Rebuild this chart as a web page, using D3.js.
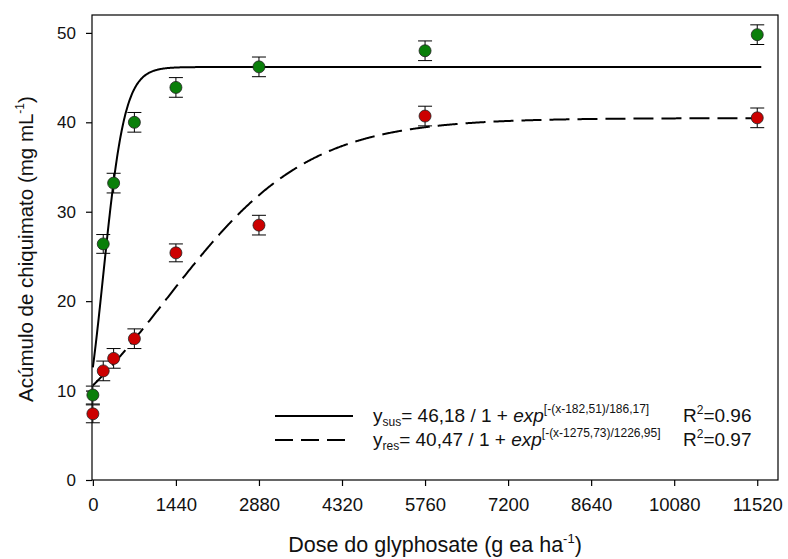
<!DOCTYPE html>
<meta charset="utf-8">
<html lang="pt">
  <head>
    <style>
      body { margin: 0; background-color: #fff; }
      svg { font-family: "Liberation Sans", Arial, sans-serif; }
      .frame { fill: none; stroke: #000; stroke-width: 1.2px; }
      .curve { fill: none; stroke: #000; stroke-width: 2px; }
      .err { stroke: #000; stroke-width: 1px; }
    </style>
  </head>
  <body>
    <script src="https://d3js.org/d3.v7.min.js"></script>
    <svg></svg>
    <script>

      // doses (g ea ha-1)
      var doses = [0, 180, 360, 720, 1440, 2880, 5760, 11520];

      // susceptible (green) and resistant (red) means and errors
      var susValues = [9.5, 26.4, 33.2, 40.0, 43.9, 46.2, 48.0, 49.8];
      var susErrors = [1.0, 1.05, 1.1, 1.1, 1.1, 1.1, 1.1, 1.1];
      var resValues = [7.4, 12.2, 13.6, 15.8, 25.4, 28.5, 40.7, 40.5];
      var resErrors = [1.0, 1.1, 1.1, 1.1, 1.0, 1.1, 1.1, 1.1];

      // fitted parameters: a, x0, b
      var susFit = [46.18, 182.51, 186.17];
      var resFit = [40.47, 1275.73, 1226.95];

      var xTicks = [0, 1440, 2880, 4320, 5760, 7200, 8640, 10080, 11520];
      var yTicks = [0, 10, 20, 30, 40, 50];

      var width = 788, height = 559;

      var svg = d3.select("svg")
        .attr("width", width)
        .attr("height", height);

      var x = d3.scaleLinear().domain([-15, 11880]).range([92, 778]);
      var y = d3.scaleLinear().domain([0, 52]).range([480, 15]);

      // axes
      svg.append("g")
        .attr("transform", "translate(0,480)")
        .call(d3.axisBottom(x).tickValues(xTicks).tickFormat(d3.format("d"))
          .tickSize(6).tickPadding(12).tickSizeOuter(0))
        .call(function(g) {
          g.select(".domain").remove();
          g.selectAll("line").attr("stroke", "#000").attr("stroke-width", 1.2);
          g.selectAll("text").attr("fill", "#111").style("font-size", "18.5px");
        });

      svg.append("g")
        .attr("transform", "translate(92,0)")
        .call(d3.axisLeft(y).tickValues(yTicks).tickSize(6).tickPadding(10).tickSizeOuter(0))
        .call(function(g) {
          g.select(".domain").remove();
          g.selectAll("line").attr("stroke", "#000").attr("stroke-width", 1.2);
          g.selectAll("text").attr("fill", "#111").style("font-size", "17px");
        });

      svg.append("rect")
        .attr("class", "frame")
        .attr("x", 92).attr("y", 15)
        .attr("width", 778 - 92).attr("height", 480 - 15);

      // fitted curves
      function logistic(p) {
        return function(d) { return p[0] / (1 + Math.exp(-(d - p[1]) / p[2])); };
      }
      var grid = d3.range(0, 11600, 10);
      var line = function(f) {
        return d3.line().x(function(d) { return x(d); }).y(function(d) { return y(f(d)); });
      };

      svg.append("path")
        .attr("class", "curve")
        .attr("d", line(logistic(susFit))(grid));

      svg.append("path")
        .attr("class", "curve")
        .attr("stroke-dasharray", "20,8")
        .attr("d", line(logistic(resFit))(grid.filter(function(d) { return d <= 11480; })));

      // points with error bars
      function drawSeries(values, errors, color) {
        var g = svg.append("g");
        var pts = doses.map(function(d, i) { return { d: d, v: values[i], e: errors[i] }; });
        var eb = g.selectAll(".eb").data(pts).enter().append("g");
        eb.append("line").attr("class", "err")
          .attr("x1", function(p) { return x(p.d); }).attr("x2", function(p) { return x(p.d); })
          .attr("y1", function(p) { return y(p.v + p.e); }).attr("y2", function(p) { return y(p.v - p.e); });
        [1, -1].forEach(function(s) {
          eb.append("line").attr("class", "err")
            .attr("x1", function(p) { return x(p.d) - 7; }).attr("x2", function(p) { return x(p.d) + 7; })
            .attr("y1", function(p) { return y(p.v + s * p.e); }).attr("y2", function(p) { return y(p.v + s * p.e); });
        });
        g.selectAll("circle").data(pts).enter().append("circle")
          .attr("cx", function(p) { return x(p.d); })
          .attr("cy", function(p) { return y(p.v); })
          .attr("r", 6)
          .attr("fill", color)
          .attr("stroke", "#222")
          .attr("stroke-width", 0.8);
      }
      drawSeries(susValues, susErrors, "#0a7f0a");
      drawSeries(resValues, resErrors, "#cc0000");

      // legend
      var legend = svg.append("g");
      var rows = [
        { dash: null, sub: "sus", a: "46,18", e: "[-(x-182,51)/186,17]", r2: "0.96", y: 422 },
        { dash: "18,8", sub: "res", a: "40,47", e: "[-(x-1275,73)/1226,95]", r2: "0.97", y: 446 }
      ];
      rows.forEach(function(r) {
        legend.append("line")
          .attr("x1", 275).attr("x2", 353)
          .attr("y1", r.y - 6).attr("y2", r.y - 6)
          .attr("stroke", "#000").attr("stroke-width", 2)
          .attr("stroke-dasharray", r.dash);
        var t = legend.append("text").attr("x", 373).attr("y", r.y)
          .style("font-size", "19px").attr("fill", "#111");
        t.append("tspan").text("y");
        t.append("tspan").attr("dy", 4).style("font-size", "12px").text(r.sub);
        t.append("tspan").attr("dy", -4).text("= " + r.a + " / 1 + ");
        t.append("tspan").style("font-style", "italic").text("exp");
        t.append("tspan").attr("dy", -9).style("font-size", "12px").text(r.e);
        legend.append("text").attr("x", 683).attr("y", r.y)
          .style("font-size", "19px").attr("fill", "#111")
          .call(function(s) {
            s.append("tspan").text("R");
            s.append("tspan").attr("dy", -8).style("font-size", "12px").text("2");
            s.append("tspan").attr("dy", 8).text("=" + r.r2);
          });
      });

      // axis titles
      svg.append("text")
        .attr("transform", "translate(33,249) rotate(-90)")
        .attr("text-anchor", "middle")
        .style("font-size", "20.5px").attr("fill", "#111")
        .call(function(s) {
          s.append("tspan").text("Acúmulo de chiquimato (mg mL");
          s.append("tspan").attr("dy", -9).style("font-size", "12px").text("-1");
          s.append("tspan").attr("dy", 9).text(")");
        });

      svg.append("text")
        .attr("x", 435).attr("y", 552)
        .attr("text-anchor", "middle")
        .style("font-size", "21.5px").attr("fill", "#111")
        .call(function(s) {
          s.append("tspan").text("Dose do glyphosate (g ea ha");
          s.append("tspan").attr("dy", -9).style("font-size", "13px").text("-1");
          s.append("tspan").attr("dy", 9).text(")");
        });

    </script>
  </body>
</html>
